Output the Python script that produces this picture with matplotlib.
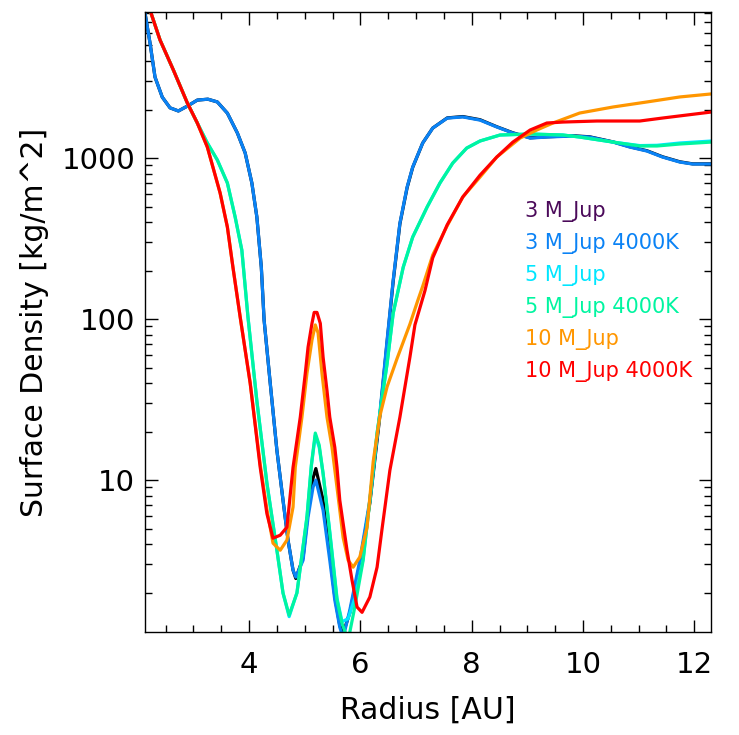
import numpy as np
import matplotlib
matplotlib.use("Agg")
import matplotlib.pyplot as plt
from matplotlib.ticker import FixedLocator, NullFormatter

# ============================================================
# DATA
# ============================================================

# 3 M_Jup 4000K (blue)
r_3k = [2.13, 2.22, 2.31, 2.44, 2.58, 2.73, 2.89, 3.07, 3.26, 3.43, 3.61, 3.79,
        3.93, 4.05, 4.14, 4.22, 4.27, 4.38, 4.50, 4.61, 4.70, 4.79, 4.84, 4.97,
        5.06, 5.15, 5.20, 5.33, 5.45, 5.54, 5.63, 5.69, 5.81, 5.99, 6.17, 6.35,
        6.48, 6.59, 6.71, 6.84, 6.94, 7.12, 7.30, 7.56, 7.84, 8.15, 8.45, 8.74,
        9.05, 9.35, 9.82, 10.12, 10.54, 10.84, 11.15, 11.43, 11.74, 11.97, 12.30]
s_3k = [7960, 5180, 3180, 2390, 2050, 1960, 2100, 2290, 2320, 2230, 1900, 1430,
        1075, 700, 430, 210, 98.6, 40, 15.3, 7.5, 4.24, 2.76, 2.50, 3.18,
        5.9, 9.05, 10.0, 6.5, 3.18, 1.80, 1.22, 1.05, 1.56, 3.18, 7.5, 26,
        74, 175, 394, 661, 879, 1240, 1535, 1770, 1800, 1720, 1560, 1430,
        1330, 1350, 1370, 1350, 1256, 1170, 1105, 1014, 944, 918, 918]

# 3 M_Jup (black) - follows the 4000K run except around the planet
r_3 = r_3k
s_3 = [7960, 5180, 3180, 2390, 2050, 1960, 2100, 2290, 2320, 2230, 1900, 1430,
       1075, 700, 430, 210, 98.6, 40, 15.3, 7.5, 4.24, 2.76, 2.45, 3.3,
       6.4, 10.3, 11.8, 7.5, 3.5, 1.9, 1.25, 1.12, 1.50, 3.0, 7.2, 25,
       72, 172, 390, 655, 875, 1240, 1535, 1775, 1810, 1730, 1565, 1435,
       1335, 1355, 1375, 1355, 1260, 1175, 1110, 1018, 948, 920, 920]

# 5 M_Jup 4000K (green)
r_5k = [2.13, 2.22, 2.40, 2.64, 2.89, 3.07, 3.25, 3.43, 3.61, 3.75, 3.87, 3.98,
        4.14, 4.32, 4.50, 4.61, 4.72, 4.86, 5.04, 5.12, 5.19, 5.26, 5.33, 5.45,
        5.58, 5.67, 5.78, 5.90, 6.05, 6.17, 6.30, 6.48, 6.59, 6.77, 6.94, 7.20,
        7.43, 7.66, 7.91, 8.15, 8.51, 9.05, 9.64, 9.94, 10.54, 11.02, 11.33,
        11.74, 12.30]
s_5k = [10500, 8300, 5410, 3520, 2200, 1650, 1240, 972, 700, 430, 268, 103,
        31, 9.6, 3.67, 1.99, 1.45, 1.99, 5.9, 12.5, 19.6, 16.5, 11.0, 4.7,
        1.80, 1.29, 1.01, 1.63, 3.18, 7.5, 19.6, 53, 109, 210, 323, 497,
        700, 931, 1153, 1276, 1390, 1410, 1390, 1350, 1256, 1188, 1188,
        1222, 1256]

# 5 M_Jup (cyan) - follows the 4000K run except in the second dip
r_5 = r_5k
s_5 = [10500, 8300, 5410, 3520, 2200, 1650, 1240, 972, 700, 430, 268, 103,
       31, 9.6, 3.67, 1.99, 1.42, 2.0, 5.9, 12.3, 19.0, 16.0, 11.0, 4.8,
       1.85, 1.32, 1.38, 1.85, 3.25, 7.5, 19.6, 53, 109, 210, 323, 497,
       700, 931, 1153, 1276, 1390, 1410, 1390, 1350, 1256, 1195, 1200,
       1240, 1275]

# 10 M_Jup (orange)
r_10 = [2.13, 2.22, 2.40, 2.64, 2.89, 3.07, 3.25, 3.35, 3.48, 3.61, 3.71, 3.84,
        4.02, 4.20, 4.32, 4.43, 4.56, 4.68, 4.79, 4.83, 4.95, 5.04, 5.13, 5.19,
        5.24, 5.31, 5.40, 5.49, 5.58, 5.69, 5.78, 5.87, 5.99, 6.12, 6.17, 6.23,
        6.35, 6.48, 6.66, 6.77, 6.89, 7.03, 7.12, 7.30, 7.56, 7.84, 8.15, 8.45,
        8.87, 9.17, 9.46, 9.94, 10.54, 11.15, 11.74, 12.30]
s_10 = [10500, 8300, 5410, 3520, 2200, 1650, 1170, 879, 606, 373, 210, 103,
        40, 12.5, 6.6, 4.06, 3.67, 4.24, 6.8, 12.0, 24.6, 46, 74, 92,
        82, 46, 24.6, 16, 9.0, 4.4, 3.18, 2.88, 3.33, 5.1, 7.8, 13.0,
        25, 38, 57, 72, 93, 130, 160, 250, 380, 573, 762, 1014,
        1330, 1493, 1650, 1903, 2075, 2230, 2395, 2500]

# 10 M_Jup 4000K (red)
r_10k = [2.13, 2.22, 2.40, 2.64, 2.89, 3.07, 3.25, 3.35, 3.48, 3.61, 3.71, 3.84,
         4.02, 4.20, 4.32, 4.43, 4.56, 4.68, 4.79, 4.92, 5.01, 5.06, 5.13, 5.17,
         5.22, 5.28, 5.33, 5.40, 5.45, 5.54, 5.58, 5.63, 5.76, 5.85, 5.94, 6.03,
         6.17, 6.30, 6.39, 6.53, 6.71, 6.89, 6.98, 7.16, 7.30, 7.56, 7.84, 8.15,
         8.45, 8.74, 9.05, 9.35, 9.64, 10.25, 11.02, 11.43, 12.30]
s_10k = [10500, 8300, 5410, 3520, 2200, 1650, 1170, 879, 606, 373, 210, 103,
         40, 12.0, 6.2, 4.36, 4.55, 5.1, 12.0, 24.6, 46, 67, 94, 110,
         110, 94, 58, 36, 24.6, 16, 12, 7.5, 3.67, 2.39, 1.63, 1.51,
         1.88, 2.88, 5.0, 11.5, 24.6, 58, 92, 150, 240, 385, 573, 783,
         1014, 1256, 1493, 1650, 1673, 1698, 1698, 1772, 1930]

labels = ["3 M_Jup", "3 M_Jup 4000K", "5 M_Jup", "5 M_Jup 4000K",
          "10 M_Jup", "10 M_Jup 4000K"]
line_colors = ["#000000", "#0A82F5", "#00E6FF", "#00F5A0", "#FF9600", "#FF0000"]
label_colors = ["#4B0A5A", "#0A82F5", "#00E6FF", "#00F5A0", "#FF9600", "#FF0000"]

x_ticks = [4, 6, 8, 10, 12]
y_ticks = [10, 100, 1000]

# ============================================================
# FIGURE
# ============================================================

plt.rcParams["font.family"] = "DejaVu Sans"

fig = plt.figure(figsize=(7.39, 7.35), dpi=100)
ax = fig.add_axes([145 / 739, 103 / 735, 566 / 739, 620 / 735])

series = [(r_3, s_3), (r_3k, s_3k), (r_5, s_5), (r_5k, s_5k),
          (r_10, s_10), (r_10k, s_10k)]
for (r, s), c in zip(series, line_colors):
    ax.plot(r, s, color=c, lw=2.3, solid_joinstyle="round")

ax.set_yscale("log")
ax.set_xlim(2.13, 12.3)
ax.set_ylim(1.14, 8070)

ax.xaxis.set_major_locator(FixedLocator(x_ticks))
ax.xaxis.set_minor_locator(FixedLocator(np.arange(2.5, 12.3, 0.5)))
ax.set_xticklabels([str(t) for t in x_ticks])

minor_y = [m * 10 ** e for e in range(0, 4) for m in range(2, 10)]
ax.yaxis.set_major_locator(FixedLocator(y_ticks))
ax.yaxis.set_minor_locator(FixedLocator(minor_y))
ax.set_yticklabels([str(t) for t in y_ticks])
ax.yaxis.set_minor_formatter(NullFormatter())

ax.tick_params(which="both", direction="in", top=True, right=True,
               width=1.0, color="black")
ax.tick_params(which="major", length=9)
ax.tick_params(which="minor", length=5)
ax.tick_params(axis="x", which="major", labelsize=21, pad=14)
ax.tick_params(axis="y", which="major", labelsize=21, pad=7)

for sp in ax.spines.values():
    sp.set_linewidth(1.0)

ax.set_xlabel("Radius [AU]", fontsize=21.5, labelpad=12)
ax.set_ylabel("Surface Density [kg/m^2]", fontsize=21.5, labelpad=9)

# legend as coloured text
for i, (lab, c) in enumerate(zip(labels, label_colors)):
    ax.text(525 / 739, 1 - (211 + i * 32) / 735, lab, color=c, fontsize=15,
            transform=fig.transFigure, va="center", ha="left")

plt.savefig("out.png", dpi=100)
plt.close()
